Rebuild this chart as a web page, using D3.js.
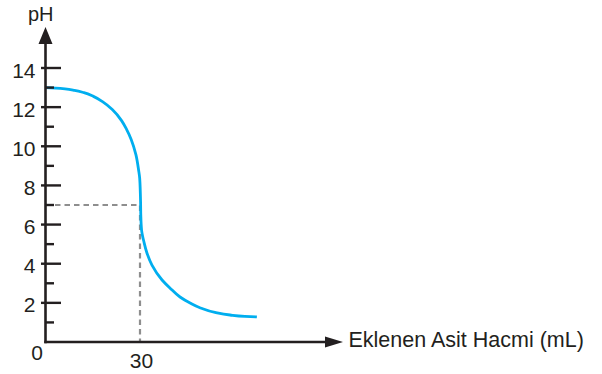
<!DOCTYPE html>
<html><head><meta charset="utf-8">
<script src="https://cdn.jsdelivr.net/npm/d3@7"></script>
<style>body{margin:0;background:#fff}svg{display:block}</style>
</head><body><svg id="c" width="602" height="374"></svg>
<script>
const volume = [0, 3.2, 6.2, 9.2, 12.2, 15.2, 18.2, 21.2, 24.2, 25.7, 27.2, 28.7, 29.55, 29.9, 30.2,
                30.25, 30.5, 31.3, 32.2, 33.8, 37.0, 39.5, 42.7, 45.9, 49.2, 53.8, 58.6, 63.3, 67.1];
const pH     = [13.0, 12.97, 12.93, 12.86, 12.74, 12.55, 12.27, 11.88, 11.3, 10.88, 10.35, 9.57, 8.79, 8.37, 7.0,
                6.49, 5.72, 5.08, 4.55, 3.93, 3.17, 2.76, 2.3, 1.99, 1.74, 1.51, 1.38, 1.31, 1.28];
const yTicks = [2, 4, 6, 8, 10, 12, 14];
const yMinor = [1, 3, 5, 7, 9, 11, 13];
const xTickLabels = [30];
const eqVolume = 30, eqPH = 7;
const xTitle = "Eklenen Asit Hacmi (mL)", yTitle = "pH";

const svg = d3.select("#c");
const ink = "#231f20";
const x = d3.scaleLinear().domain([0, 30]).range([45.5, 140]);
const y = d3.scaleLinear().domain([0, 14]).range([342, 68]);
const font = "Liberation Sans, Arial, sans-serif";

// dashed guides
svg.append("path").attr("d", `M${x(0)},${y(eqPH)}H${x(eqVolume)}V${y(0)}`)
  .attr("fill","none").attr("stroke","#8e8e8e").attr("stroke-width",2.2).attr("stroke-dasharray","5.5,4");

// curve
const pts = volume.map((v,i)=>[x(v), y(pH[i])]);
svg.append("path").attr("d", d3.line().curve(d3.curveMonotoneY)(pts))
  .attr("fill","none").attr("stroke","#00aeef").attr("stroke-width",2.8).attr("stroke-linecap","butt");

// y axis
svg.append("line").attr("x1",x(0)).attr("x2",x(0)).attr("y1",y(0)+1.2).attr("y2",40)
  .attr("stroke",ink).attr("stroke-width",2.6);
svg.append("path").attr("d",`M${x(0)},27L${x(0)+7},44L${x(0)-7},44Z`).attr("fill",ink);
// x axis
svg.append("line").attr("x1",x(0)-1.2).attr("x2",330).attr("y1",y(0)).attr("y2",y(0))
  .attr("stroke",ink).attr("stroke-width",2.6);
svg.append("path").attr("d",`M343,${y(0)}L325,${y(0)-5.5}L325,${y(0)+5.5}Z`).attr("fill",ink);

// ticks
svg.selectAll(".maj").data(yTicks).join("line")
  .attr("x1",x(0)-4.5).attr("x2",x(0)+15.5).attr("y1",d=>y(d)).attr("y2",d=>y(d))
  .attr("stroke",ink).attr("stroke-width",2.4);
svg.selectAll(".min").data(yMinor).join("line")
  .attr("x1",x(0)).attr("x2",x(0)+8.5).attr("y1",d=>y(d)).attr("y2",d=>y(d))
  .attr("stroke",ink).attr("stroke-width",2.4);
svg.selectAll(".yl").data(yTicks).join("text")
  .attr("x",35.5).attr("y",d=>y(d)+9.5).attr("text-anchor","end")
  .attr("font-family",font).attr("font-size",21).attr("fill",ink).text(d=>d);

// x labels
svg.append("text").attr("x",37).attr("y",360).attr("text-anchor","middle")
  .attr("font-family",font).attr("font-size",21).attr("fill",ink).text("0");
svg.selectAll(".xl").data(xTickLabels).join("text")
  .attr("x",d=>x(d)+1.5).attr("y",368).attr("text-anchor","middle")
  .attr("font-family",font).attr("font-size",21).attr("fill",ink).text(d=>d);

// titles
svg.append("text").attr("x",348.5).attr("y",347).attr("font-family",font).attr("font-size",21.5)
  .attr("fill",ink).text(xTitle);
svg.append("text").attr("x",28).attr("y",21).attr("font-family",font).attr("font-size",20)
  .attr("fill",ink).text(yTitle);
</script></body></html>
